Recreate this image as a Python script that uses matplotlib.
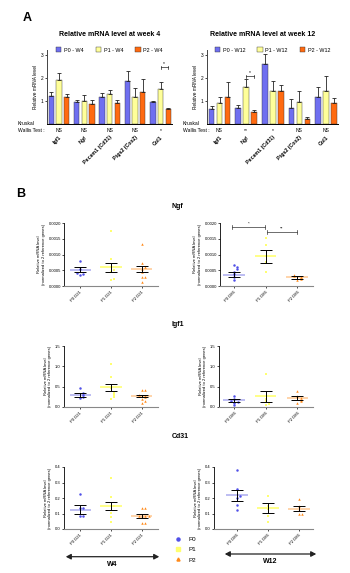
import numpy as np
import matplotlib
matplotlib.use("Agg")
import matplotlib.pyplot as plt
from matplotlib.patches import Patch, FancyArrowPatch
from matplotlib.lines import Line2D

plt.rcParams['font.family'] = ['Liberation Sans', 'DejaVu Sans']

W, H = 350, 573
fig = plt.figure(figsize=(W / 100, H / 100), dpi=100)

# ---------------- data: panel A ----------------
genes_A = ["Igf1", "Ngf", "Pecam1 (Cd31)", "Ptgs2 (Cox2)", "Col1"]
groups_w4 = ["P0 - W4", "P1 - W4", "P2 - W4"]
groups_w12 = ["P0 - W12", "P1 - W12", "P2 - W12"]

w4_p0 = [1.22, 0.93, 1.15, 1.87, 0.93]
w4_p0_err = [0.15, 0.12, 0.18, 0.42, 0.06]
w4_p1 = [1.90, 0.98, 1.28, 1.17, 1.50]
w4_p1_err = [0.32, 0.28, 0.17, 0.37, 0.30]
w4_p2 = [1.16, 0.86, 0.90, 1.39, 0.64]
w4_p2_err = [0.12, 0.15, 0.12, 0.55, 0.05]
w4_kw = ["NS", "NS", "NS", "NS", "*"]

w12_p0 = [0.62, 0.68, 2.60, 0.67, 1.15]
w12_p0_err = [0.16, 0.15, 0.42, 0.39, 0.43]
w12_p1 = [0.88, 1.60, 1.43, 0.96, 1.43]
w12_p1_err = [0.30, 0.33, 0.42, 0.45, 0.64]
w12_p2 = [1.15, 0.50, 1.41, 0.19, 0.88]
w12_p2_err = [0.68, 0.10, 0.28, 0.08, 0.22]
w12_kw = ["NS", "**", "*", "NS", "NS"]

# ---------------- data: panel B ----------------
cats_w4 = ["P0 D21", "P1 D21", "P2 D21"]
cats_w12 = ["P0 D86", "P1 D86", "P2 D86"]

ngf_w4_p0 = [0.00080, 0.00055, 0.00040, 0.00038, 0.00035]
ngf_w4_p1 = [0.00175, 0.00086, 0.00060, 0.00052, 0.00045, 0.00022, 0.00019]
ngf_w4_p2 = [0.00133, 0.00072, 0.00060, 0.00053, 0.00045, 0.00030, 0.00030, 0.00014]
ngf_w4_mean = [0.00052, 0.00059, 0.00053]
ngf_w4_sem = [0.00008, 0.00015, 0.00010]

ngf_w12_p0 = [0.00067, 0.00060, 0.00053, 0.00046, 0.00037, 0.00030, 0.00019]
ngf_w12_p1 = [0.00152, 0.00131, 0.00095, 0.00076, 0.00046]
ngf_w12_p2 = [0.00035, 0.00033, 0.00030, 0.00027, 0.00022, 0.00018]
ngf_w12_mean = [0.00036, 0.00094, 0.00027]
ngf_w12_sem = [0.00008, 0.00020, 0.00004]

igf_w4_p0 = [0.46, 0.34, 0.30, 0.25, 0.22]
igf_w4_p1 = [1.05, 0.75, 0.46, 0.35, 0.30, 0.25, 0.20]
igf_w4_p2 = [0.43, 0.42, 0.30, 0.27, 0.25, 0.20, 0.15, 0.10]
igf_w4_mean = [0.30, 0.48, 0.27]
igf_w4_sem = [0.05, 0.09, 0.03]

igf_w12_p0 = [0.27, 0.20, 0.15, 0.12, 0.10, 0.05]
igf_w12_p1 = [0.80, 0.20, 0.15, 0.08, 0.05]
igf_w12_p2 = [0.39, 0.27, 0.22, 0.18, 0.15, 0.10]
igf_w12_mean = [0.16, 0.26, 0.23]
igf_w12_sem = [0.03, 0.14, 0.05]

cd31_w4_p0 = [0.228, 0.135, 0.133, 0.081, 0.081]
cd31_w4_p1 = [0.33, 0.204, 0.15, 0.15, 0.103, 0.08, 0.043]
cd31_w4_p2 = [0.135, 0.135, 0.085, 0.085, 0.085, 0.085, 0.039, 0.039]
cd31_w4_mean = [0.125, 0.150, 0.086]
cd31_w4_sem = [0.027, 0.025, 0.013]

cd31_w12_p0 = [0.378, 0.258, 0.21, 0.20, 0.157, 0.12]
cd31_w12_p1 = [0.215, 0.146, 0.13, 0.081, 0.043]
cd31_w12_p2 = [0.194, 0.146, 0.12, 0.098, 0.098]
cd31_w12_mean = [0.217, 0.135, 0.131]
cd31_w12_sem = [0.035, 0.032, 0.018]

# ---------------- styles ----------------
bar_colors = ["#6f6ff0", "#ffff99", "#ff6a10"]
pt_colors = ["#5050e8", "#ffff70", "#ff8a1a"]
mean_colors = ["#b0b0f0", "#ffff70", "#ffcc99"]
markers = ["o", "s", "^"]


def ax_px(x0, y0, x1, y1):
    return fig.add_axes([x0 / W, 1 - y1 / H, (x1 - x0) / W, (y1 - y0) / H])


def ftext(x, y, s, **kw):
    fig.text(x / W, 1 - y / H, s, **kw)


# ---------------- Panel A ----------------
def bar_panel(ax, vals, errs, labels, kw, sig_idx, sig_pair, sig_y, sig_text):
    x = np.arange(len(genes_A))
    offs = [-0.3, 0.0, 0.3]
    for k in range(3):
        ax.bar(x + offs[k], vals[k], width=0.21, color=bar_colors[k],
               edgecolor="#333333", linewidth=0.3, label=labels[k], zorder=2)
        ax.errorbar(x + offs[k], vals[k], yerr=[np.zeros(len(x)), errs[k]],
                    fmt="none", ecolor="#222222", elinewidth=0.6,
                    capsize=1.2, capthick=0.6, zorder=3)
    ax.set_xlim(-0.47, 4.45)
    ax.set_ylim(0, 3.2)
    ax.set_yticks([1, 2, 3])
    ax.tick_params(axis="y", labelsize=3.5, length=1.5, width=0.5, pad=0.8)
    ax.set_xticks(x)
    ax.set_xticklabels(genes_A, rotation=45, ha="right", va="top",
                       rotation_mode="anchor", fontsize=3.8, fontweight="bold")
    ax.tick_params(axis="x", length=0, pad=8)
    for s in ["top", "right"]:
        ax.spines[s].set_visible(False)
    ax.spines["left"].set_linewidth(0.7)
    ax.spines["bottom"].set_linewidth(0.7)
    ax.spines["left"].set_color("#444444")
    for i, t in enumerate(kw):
        ax.text(x[i], -0.09, t, transform=ax.get_xaxis_transform(),
                ha="center", va="center", fontsize=3.6)
    # significance bracket
    xa = sig_idx + offs[sig_pair[0]]
    xb = sig_idx + offs[sig_pair[1]]
    ax.plot([xa, xb], [sig_y, sig_y], color="#222222", lw=0.5, clip_on=False)
    ax.plot([xa, xa], [sig_y - 0.06, sig_y + 0.06], color="#222222", lw=0.5)
    ax.plot([xb, xb], [sig_y - 0.06, sig_y + 0.06], color="#222222", lw=0.5)
    ax.text((xa + xb) / 2, sig_y + 0.05, sig_text, ha="center", va="bottom",
            fontsize=3.6)
    ax.set_ylabel("Relative mRNA level", fontsize=3.4, labelpad=2)
    handles = [Patch(facecolor=bar_colors[k], edgecolor="#333333",
                     linewidth=0.3, label=labels[k]) for k in range(3)]
    ax.legend(handles=handles, ncol=3, loc="center",
              bbox_to_anchor=(0.5, 1.0), frameon=False, fontsize=3.9,
              handlelength=1.0, handleheight=0.9, columnspacing=2.2,
              handletextpad=0.5, borderaxespad=0)


axA1 = ax_px(47, 50, 172, 123.7)
bar_panel(axA1, [w4_p0, w4_p1, w4_p2], [w4_p0_err, w4_p1_err, w4_p2_err],
          groups_w4, w4_kw, 4, (1, 2), 2.45, "*")
axA2 = ax_px(207, 50, 338, 123.7)
bar_panel(axA2, [w12_p0, w12_p1, w12_p2], [w12_p0_err, w12_p1_err, w12_p2_err],
          groups_w12, w12_kw, 1, (1, 2), 2.05, "*")

ftext(27, 18, "A", fontsize=9, fontweight="bold", ha="center", va="center")
ftext(110, 35, "Relative mRNA level at week 4", fontsize=5, fontweight="bold",
      ha="center", va="center")
ftext(263, 35, "Relative mRNA level at week 12", fontsize=5, fontweight="bold",
      ha="center", va="center")
for xk in (18, 183):
    ftext(xk, 123.5, "Kruskal", fontsize=3.6, ha="left", va="center")
    ftext(xk, 130.3, "Wallis Test :", fontsize=3.6, ha="left", va="center")

# ---------------- Panel B ----------------
def swarm_offsets(vals, thr, step=0.11):
    vals = np.asarray(vals, dtype=float)
    order = np.argsort(vals)
    offs = np.zeros(len(vals))
    placed = []
    for idx in order:
        v = vals[idx]
        near = [p for p in placed if abs(vals[p] - v) < thr]
        n = len(near)
        if n == 0:
            o = 0.0
        else:
            k = (n + 1) // 2
            o = step * k * (1 if n % 2 == 1 else -1)
        offs[idx] = o
        placed.append(idx)
    return offs


def scatter_panel(ax, pts, means, sems, cats, ymax, yticks, yfmt, thr):
    for k in range(3):
        v = np.asarray(pts[k])
        xo = k + swarm_offsets(v, thr)
        ax.scatter(xo, v, s=3.2, marker=markers[k], color=pt_colors[k],
                   linewidths=0, zorder=3, clip_on=False)
        ax.plot([k - 0.34, k + 0.34], [means[k], means[k]], color=mean_colors[k],
                lw=1.3, alpha=0.9, zorder=2, solid_capstyle="butt")
        ax.errorbar([k], [means[k]], yerr=[[sems[k]], [sems[k]]], fmt="none",
                    ecolor="black", elinewidth=0.7, capsize=4.0, capthick=0.7,
                    zorder=4)
    ax.set_ylim(0, ymax)
    ax.set_yticks(yticks)
    ax.set_yticklabels([yfmt.format(t) for t in yticks])
    ax.tick_params(axis="y", labelsize=3.0, length=1.5, width=0.5, pad=0.8)
    ax.set_xticks(range(3))
    ax.set_xticklabels(cats, rotation=45, ha="right", va="top",
                       rotation_mode="anchor", fontsize=3.0)
    ax.tick_params(axis="x", length=1.5, width=0.5, pad=1.5)
    for s in ["top", "right"]:
        ax.spines[s].set_visible(False)
    ax.spines["left"].set_linewidth(0.6)
    ax.spines["bottom"].set_linewidth(0.8)
    ax.spines["bottom"].set_color("#888888")
    ax.set_ylabel("Relative mRNA level\n(normalized to 2 reference genes)",
                  fontsize=3.0, labelpad=2, linespacing=1.1)


def bracket(ax, xa, xb, y, text, dy):
    ax.plot([xa, xb], [y, y], color="#333333", lw=0.5, clip_on=False)
    ax.plot([xa, xa], [y - dy, y + dy], color="#333333", lw=0.5, clip_on=False)
    ax.plot([xb, xb], [y - dy, y + dy], color="#333333", lw=0.5, clip_on=False)
    ax.text((xa + xb) / 2, y + dy * 0.8, text, ha="center", va="bottom",
            fontsize=3.2)


ng = ax_px(64, 223, 158, 286)
ng.set_xlim(-0.52, 2.52)
scatter_panel(ng, [ngf_w4_p0, ngf_w4_p1, ngf_w4_p2], ngf_w4_mean, ngf_w4_sem,
              cats_w4, 0.002, [0, 0.0005, 0.001, 0.0015, 0.002], "{:.4f}", 0.00007)

ng2 = ax_px(220, 223, 313, 286)
ng2.set_xlim(-0.44, 2.5)
scatter_panel(ng2, [ngf_w12_p0, ngf_w12_p1, ngf_w12_p2], ngf_w12_mean,
              ngf_w12_sem, cats_w12, 0.002, [0, 0.0005, 0.001, 0.0015, 0.002],
              "{:.4f}", 0.00007)
bracket(ng2, -0.05, 0.98, 0.00187, "*", 0.00006)
bracket(ng2, 1.03, 2.0, 0.00171, "**", 0.00006)

ig = ax_px(64, 346, 158, 407)
ig.set_xlim(-0.52, 2.52)
scatter_panel(ig, [igf_w4_p0, igf_w4_p1, igf_w4_p2], igf_w4_mean, igf_w4_sem,
              cats_w4, 1.5, [0, 0.5, 1.0, 1.5], "{:.1f}", 0.05)

ig2 = ax_px(219, 346, 313, 407)
ig2.set_xlim(-0.48, 2.5)
scatter_panel(ig2, [igf_w12_p0, igf_w12_p1, igf_w12_p2], igf_w12_mean,
              igf_w12_sem, cats_w12, 1.5, [0, 0.5, 1.0, 1.5], "{:.1f}", 0.05)

cd = ax_px(64, 467, 158, 529)
cd.set_xlim(-0.52, 2.52)
scatter_panel(cd, [cd31_w4_p0, cd31_w4_p1, cd31_w4_p2], cd31_w4_mean,
              cd31_w4_sem, cats_w4, 0.4, [0, 0.1, 0.2, 0.3, 0.4], "{:.1f}", 0.015)

cd2 = ax_px(214, 467, 313, 529)
cd2.set_xlim(-0.74, 2.45)
scatter_panel(cd2, [cd31_w12_p0, cd31_w12_p1, cd31_w12_p2], cd31_w12_mean,
              cd31_w12_sem, cats_w12, 0.4, [0, 0.1, 0.2, 0.3, 0.4], "{:.1f}", 0.015)

ftext(21, 194, "B", fontsize=9, fontweight="bold", ha="center", va="center")
ftext(172, 206, "Ngf", fontsize=5, fontweight="bold", ha="left", va="center")
ftext(172, 324, "Igf1", fontsize=5, fontweight="bold", ha="left", va="center")
ftext(172, 436, "Cd31", fontsize=5, fontweight="bold", ha="left", va="center")

# legend B
legB = ["P0", "P1", "P2"]
handles = [Line2D([], [], marker=markers[k], color=pt_colors[k], ls="none",
                  markersize=2.2, label=legB[k]) for k in range(3)]
fig.legend(handles=handles, loc="upper left",
           bbox_to_anchor=(172 / W, 1 - 537 / H), frameon=False, fontsize=4.5,
           handletextpad=0.6, labelspacing=0.75, borderaxespad=0,
           borderpad=0)

# arrows
for (xa, xb, y, lab, yl) in [(63, 162, 556.7, "W4", 562.5),
                             (222, 319, 554, "W12", 559.5)]:
    fig.add_artist(FancyArrowPatch(
        (xa / W, 1 - y / H), (xb / W, 1 - y / H), transform=fig.transFigure,
        arrowstyle="<|-|>,head_length=3,head_width=1.6", color="#222222",
        lw=0.9, mutation_scale=1))
    ftext((xa + xb) / 2, yl + 2, lab, fontsize=5, fontweight="bold",
          ha="center", va="center")

fig.savefig("out.png", dpi=100)
